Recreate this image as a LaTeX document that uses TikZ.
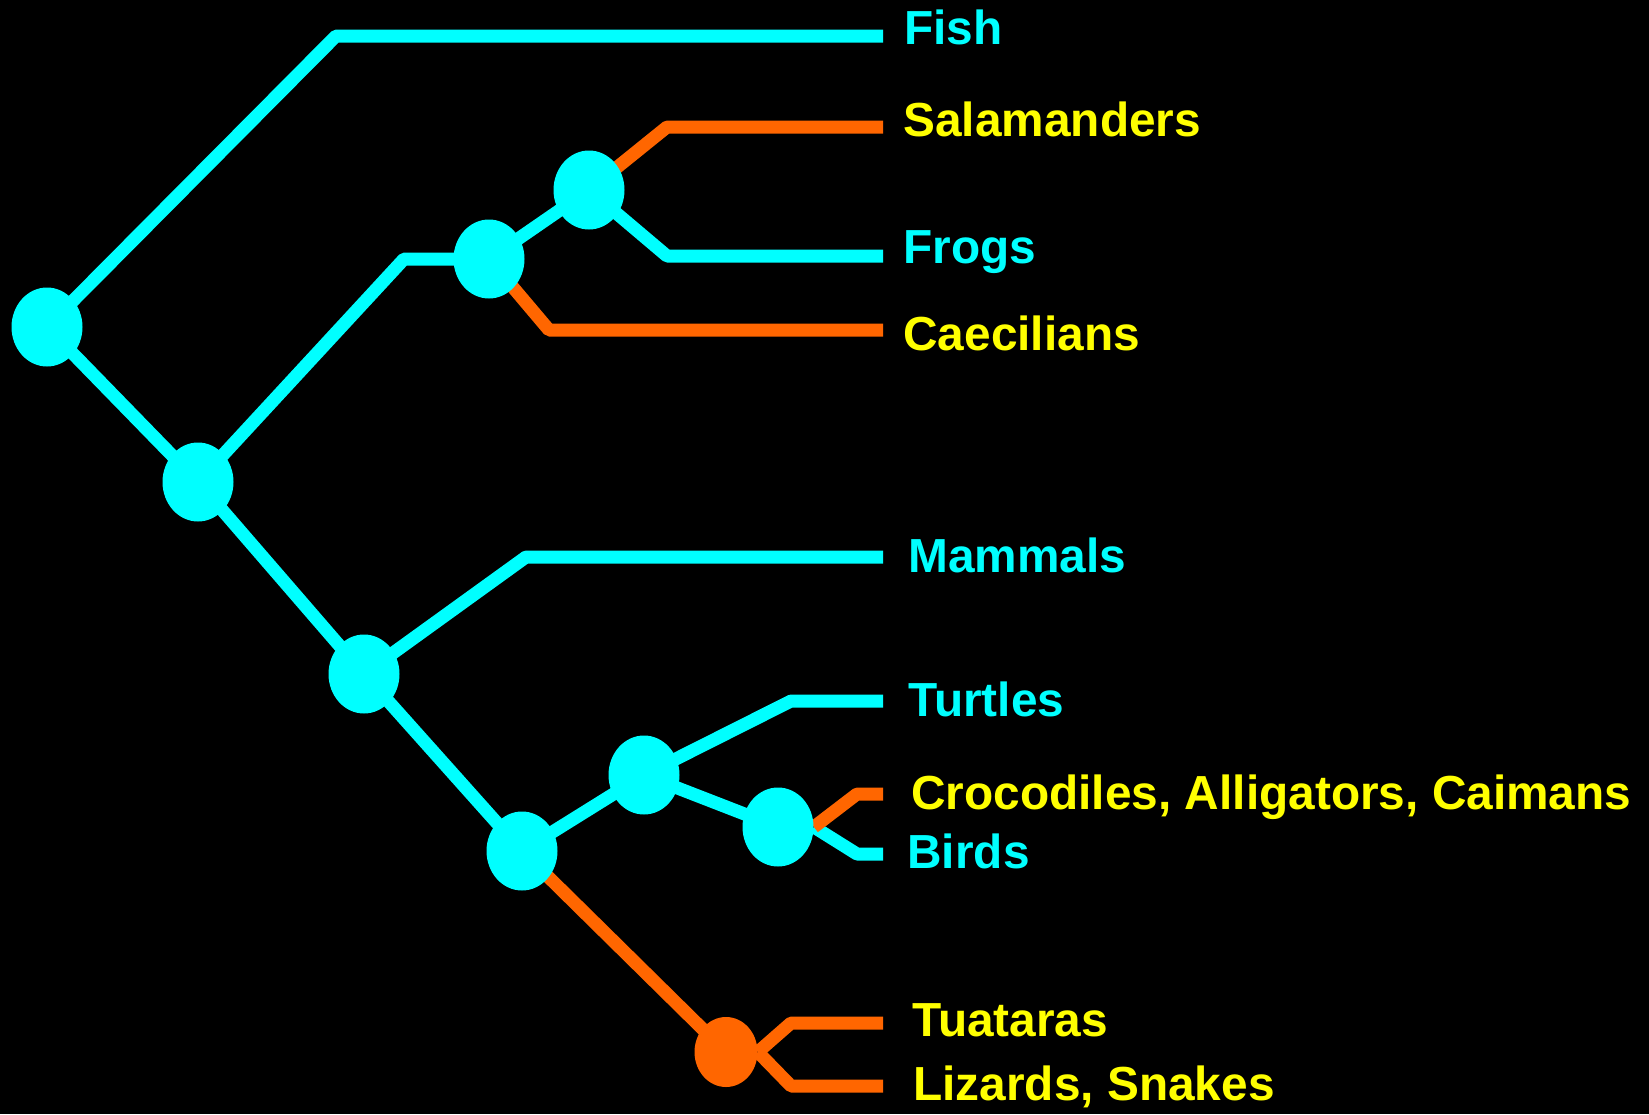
\documentclass[tikz,border=0pt]{standalone}
\usepackage{fontspec}
\setmainfont{Liberation Sans}
\usetikzlibrary{backgrounds,shapes.geometric}
\definecolor{Cyan}{RGB}{0,255,255}
\definecolor{Orange}{RGB}{255,102,0}
\definecolor{Yellow}{RGB}{255,255,0}

\begin{document}
\begin{tikzpicture}[x=.5pt,y=-.5pt,
  clade/.style={ellipse,fill=Cyan,minimum width=35.5pt,minimum height=39.5pt,inner sep=0},
  branch/.style={line width=6.5pt,line join=bevel,Cyan},
  lost/.style={branch,Orange},
  taxon/.style={font=\bfseries\fontsize{23.9}{26}\selectfont,anchor=base west,inner sep=0}]
\useasboundingbox (0,0) rectangle (1649,1114);
% branching points
\node[clade] (root) at (47,327) {};
\node[clade] (tetra) at (198,482) {};
\node[clade] (amphib) at (489,259) {};
\node[clade] (batra) at (589,190) {};
\node[clade] (amnio) at (364,674) {};
\node[clade] (rept) at (522,851) {};
\node[clade] (archel) at (644,775) {};
\node[clade] (archo) at (778,827) {};
\node[clade,fill=Orange,minimum width=31.5pt,minimum height=35pt] (lepido) at (726,1052) {};
% elbows and tips
\coordinate (fishbend) at (336,36);   \coordinate (fishend) at (883,36);
\coordinate (amphbend) at (404,259);
\coordinate (salbend) at (667,127);   \coordinate (salend) at (883,127);
\coordinate (frogbend) at (667,256);  \coordinate (frogend) at (883,256);
\coordinate (caecbend) at (549,330);  \coordinate (caecend) at (883,330);
\coordinate (mambend) at (526,557);   \coordinate (mamend) at (883,557);
\coordinate (turtbend) at (791,701);  \coordinate (turtend) at (883,701);
\coordinate (crocbend) at (857,794);  \coordinate (crocend) at (883,794);
\coordinate (birdbend) at (857,854);  \coordinate (birdend) at (883,854);
\coordinate (tuabend) at (791,1023);  \coordinate (tuaend) at (883,1023);
\coordinate (lizbend) at (791,1086);  \coordinate (lizend) at (883,1086);
\begin{scope}[on background layer]
\fill[black] (0,0) rectangle (1649,1114);
\draw[branch] (root.center) -- (fishbend) -- (fishend);
\draw[branch] (root.center) -- (tetra.center) -- (amphbend) -- (amphib.center) -- (batra.center);
\draw[lost] (batra.center) -- (salbend) -- (salend);
\draw[branch] (batra.center) -- (frogbend) -- (frogend);
\draw[lost] (amphib.center) -- (caecbend) -- (caecend);
\draw[branch] (tetra.center) -- (amnio.center) -- (mambend) -- (mamend);
\draw[branch] (amnio.center) -- (rept.center) -- (archel.center) -- (turtbend) -- (turtend);
\draw[branch] (archel.center) -- (archo.center);
\draw[branch] (archo.east) -- (birdbend) -- (birdend);
\draw[lost] (archo.east) -- (crocbend) -- (crocend);
\draw[lost] (rept.center) -- (lepido.center);
\draw[lost] (lepido.east) -- (tuabend) -- (tuaend);
\draw[lost] (lepido.east) -- (lizbend) -- (lizend);
\end{scope}
% taxa
\foreach \n/\x/\y/\c/\t in {fish/904/44/Cyan/Fish, sal/903/136/Yellow/Salamanders,
    frog/903/263/Cyan/Frogs, caec/903/350/Yellow/Caecilians, mam/908/572/Cyan/Mammals,
    turt/908/716/Cyan/Turtles, croc/911/809/Yellow/{Crocodiles, Alligators, Caimans},
    bird/907/868/Cyan/Birds, tua/912/1036/Yellow/Tuataras, liz/913/1100/Yellow/{Lizards, Snakes}}
  \node[taxon,text=\c] (\n) at (\x,\y) {\t};
\end{tikzpicture}
\end{document}
